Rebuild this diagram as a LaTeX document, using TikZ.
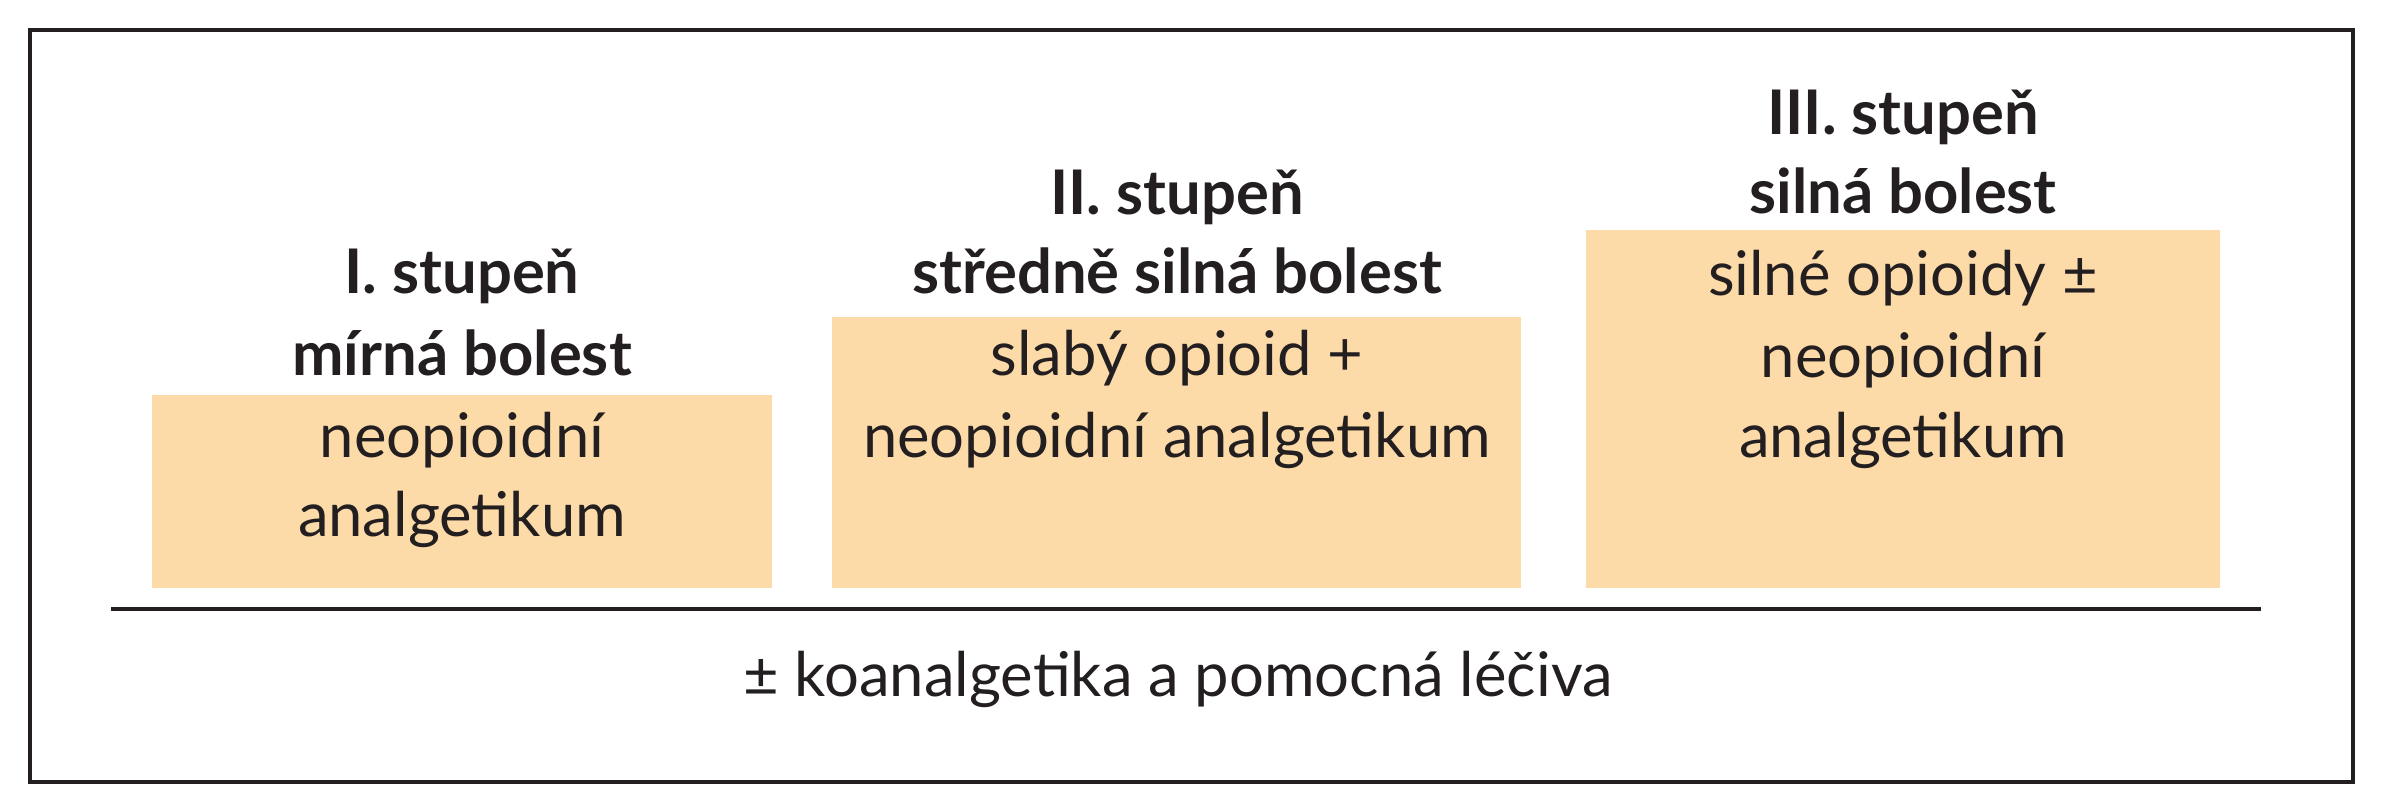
\documentclass[tikz,border=0pt]{standalone}
\usepackage{fontspec}
\setmainfont{Lato}
\definecolor{boxfill}{HTML}{FCDBA9}
\definecolor{ink}{HTML}{231F20}
\begin{document}
\begin{tikzpicture}[x=0.01cm,y=-0.01cm,
  stepfill/.style={fill=boxfill,draw=none},
  head/.style={anchor=base,inner sep=0pt,font=\fontsize{17.5pt}{21pt}\selectfont\bfseries,text=ink},
  body/.style={anchor=base,inner sep=0pt,font=\fontsize{17.5pt}{21pt}\selectfont,text=ink}]
\useasboundingbox (0,0) rectangle (2391,800);
\draw[ink,line width=1.3pt] (30,30) rectangle (2353,782);
% boxes
\path[stepfill] (152,395) rectangle (772,588);
\path[stepfill] (832,317) rectangle (1521,588);
\path[stepfill] (1586,230) rectangle (2220,588);
% column 1
\node[head] (h1a) at (462,293) {I. stupeň};
\node[head] (h1b) at (462,375) {mírná bolest};
\node[body] (b1a) at (462,457) {neopioidní};
\node[body] (b1b) at (462,536) {analgetikum};
% column 2
\node[head] (h2a) at (1177,214) {II. stupeň};
\node[head] (h2b) at (1177,293) {středně silná bolest};
\node[body] (b2a) at (1177,375) {slabý opioid +};
\node[body] (b2b) at (1177,457) {neopioidní analgetikum};
% column 3
\node[head] (h3a) at (1903,134) {III. stupeň};
\node[head] (h3b) at (1903,213) {silná bolest};
\node[body] (b3a) at (1903,295) {silné opioidy ±};
\node[body] (b3b) at (1903,377) {neopioidní};
\node[body] (b3c) at (1903,457) {analgetikum};
% base line
\coordinate (la) at (111,609);
\coordinate (lb) at (2261,609);
\draw[ink,line width=1.15pt] (la) -- (lb);
\node[body] (foot) at (1178,696) {± koanalgetika a pomocná léčiva};
\end{tikzpicture}
\end{document}
